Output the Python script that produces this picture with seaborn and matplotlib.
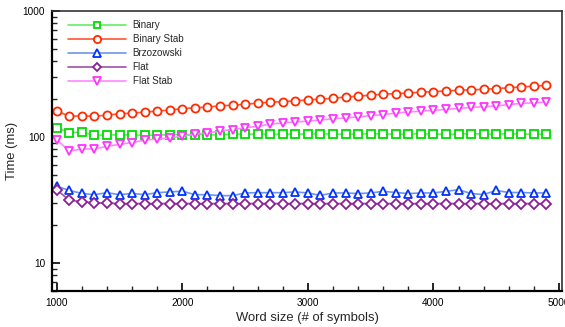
import numpy as np
import pandas as pd
import matplotlib
matplotlib.use("Agg")
import matplotlib.pyplot as plt
import seaborn as sns
from matplotlib.ticker import FixedLocator, MultipleLocator, LogLocator, NullFormatter

# Word sizes (number of symbols)
word_size = list(range(1000, 5000, 100))

# Running times in milliseconds
binary = [118, 108, 109, 103, 103, 104, 103, 103, 103, 104,
          104, 104, 104, 104, 105, 105, 105, 105, 105, 105,
          105, 106, 105, 105, 105, 106, 105, 105, 105, 106,
          105, 105, 105, 106, 105, 105, 106, 105, 105, 105]
binary_stab = [161, 145, 147, 145, 149, 152, 154, 157, 160, 163,
               167, 170, 172, 176, 178, 181, 185, 188, 190, 193,
               196, 199, 202, 207, 210, 214, 218, 220, 222, 226,
               228, 231, 234, 236, 238, 241, 245, 249, 252, 256]
brzozowski = [40.5, 37.5, 35.5, 34.7, 36.0, 34.7, 35.5, 34.7, 36.0, 36.5,
              37.0, 34.7, 34.7, 34.1, 34.1, 35.8, 36.0, 36.0, 36.0, 36.5,
              35.8, 34.3, 35.8, 35.8, 35.4, 35.8, 36.9, 36.1, 35.4, 35.8,
              35.8, 36.9, 38.0, 35.4, 34.8, 37.5, 36.1, 36.1, 35.8, 35.8]
flat = [38.0, 31.3, 30.6, 29.8, 29.7, 29.5, 29.5, 29.5, 29.5, 29.5,
        29.5, 29.5, 29.5, 29.5, 29.5, 29.5, 29.5, 29.5, 29.5, 29.5,
        29.5, 29.5, 29.5, 29.5, 29.5, 29.5, 29.5, 29.5, 29.5, 29.5,
        29.5, 29.5, 29.5, 29.5, 29.5, 29.5, 29.5, 29.5, 29.5, 29.5]
flat_stab = [95, 77, 80, 80, 84, 87, 90, 94, 96, 98,
             101, 105, 107, 111, 114, 118, 121, 126, 129, 131,
             133, 136, 139, 141, 144, 147, 150, 154, 157, 160,
             162, 165, 168, 171, 173, 176, 180, 184, 186, 189]

series_names = ["Binary", "Binary Stab", "Brzozowski", "Flat", "Flat Stab"]
series_values = [binary, binary_stab, brzozowski, flat, flat_stab]

styles = {
    "Binary":      dict(line="#66ee66", edge="#00dd00", marker="s", ms=5.2),
    "Binary Stab": dict(line="#ff5533", edge="#ff2a00", marker="o", ms=5.8),
    "Brzozowski":  dict(line="#6f95ee", edge="#0033ff", marker="^", ms=6.0),
    "Flat":        dict(line="#a050a8", edge="#8a1f96", marker="D", ms=4.6),
    "Flat Stab":   dict(line="#ff88ff", edge="#ff33ff", marker="v", ms=6.0),
}

df = pd.concat(
    [pd.DataFrame({"size": word_size, "time": vals, "algo": name})
     for name, vals in zip(series_names, series_values)],
    ignore_index=True,
)

sns.set_theme(style="white")
plt.rcParams["font.family"] = ["Liberation Sans", "DejaVu Sans"]

fig = plt.figure(figsize=(5.65, 3.27), dpi=100)
ax = fig.add_axes([0.092, 0.111, 0.9027, 0.856])

for name in series_names:
    st = styles[name]
    sub = df[df["algo"] == name]
    sns.lineplot(data=sub, x="size", y="time", ax=ax, label=name,
                 color=st["line"], linewidth=1.2,
                 marker=st["marker"], markersize=st["ms"],
                 markerfacecolor="white", markeredgecolor=st["edge"],
                 markeredgewidth=1.3)

ax.set_yscale("log")
ax.set_xlim(962, 5024)
ax.set_ylim(6, 1000)

ax.xaxis.set_major_locator(FixedLocator([1000, 2000, 3000, 4000, 5000]))
ax.xaxis.set_minor_locator(MultipleLocator(200))
ax.yaxis.set_major_locator(FixedLocator([10, 100, 1000]))
ax.yaxis.set_minor_locator(LogLocator(base=10, subs=np.arange(2, 10)))
ax.yaxis.set_minor_formatter(NullFormatter())
ax.set_yticklabels(["10", "100", "1000"])

ax.tick_params(which="major", direction="in", length=6, width=1.2,
               labelsize=7.2, pad=5, colors="black",
               bottom=True, left=True, top=False, right=False)
ax.tick_params(which="minor", direction="in", length=3.5, width=1.0,
               bottom=True, left=True, top=False, right=False)

for side in ["left", "bottom"]:
    ax.spines[side].set_linewidth(1.6)
    ax.spines[side].set_color("black")
for side in ["top", "right"]:
    ax.spines[side].set_linewidth(1.2)
    ax.spines[side].set_color("#333333")

ax.set_xlabel("Word size (# of symbols)", fontsize=9.4, labelpad=3)
ax.set_ylabel("Time (ms)", fontsize=9.4, labelpad=3)
ax.grid(False)

leg = ax.legend(loc="upper left", frameon=False, fontsize=7.1,
                handlelength=5.9, handletextpad=0.7, labelspacing=0.4,
                markerscale=0.9,
                borderaxespad=0.3, bbox_to_anchor=(0.017, 0.99))

fig.savefig("out.png", dpi=100, facecolor="white")
